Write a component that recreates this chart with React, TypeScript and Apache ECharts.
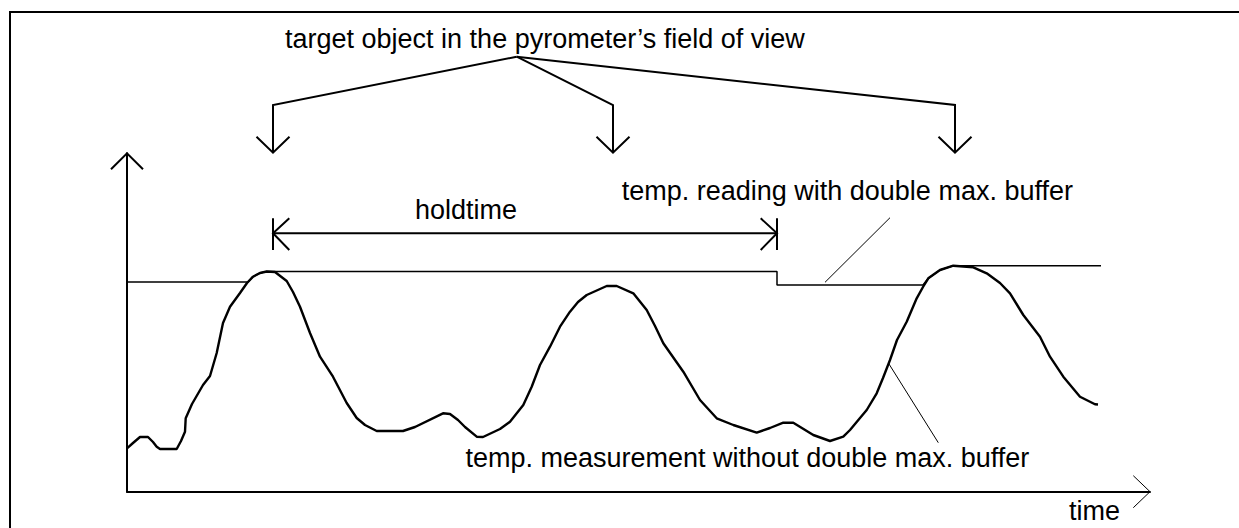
import React, { useEffect, useRef } from "react";
import * as echarts from "echarts";

// Measured temperature (without double max. buffer): time / temperature in arbitrary units
const timeValues = [
  0, 6, 13, 21, 26, 29.7, 33, 49.7, 54, 58, 58.7, 65, 76, 83, 89.7, 96, 103, 113, 120, 126,
  133, 139.7, 148, 159.7, 166, 173, 183, 193, 206, 219.7, 229.7, 238, 249.7, 276, 288, 316,
  323, 331, 338, 349.7, 356, 373, 383, 396.3, 404.7, 413, 423, 433, 443, 451, 459.7, 479.7,
  489.7, 506.3, 519.7, 528, 536.3, 556.3, 573, 589.7, 606.3, 629.7, 643, 656.3, 666.3, 686.3,
  703, 716.3, 723, 733, 739.7, 749.7, 756, 763, 770, 779.7, 789.7, 796, 801.3, 813, 826.3,
  846.3, 859.7, 873, 883, 896.3, 913, 923, 936.3, 953, 968, 971,
];
const tempValues = [
  43.4, 48.7, 54.7, 54.7, 49.7, 45, 42.7, 42.7, 50.7, 60, 73.4, 87.7, 106.7, 115.7, 138.7,
  168.7, 185, 198.7, 208.7, 215, 218.7, 220.2, 219.7, 210.7, 199.7, 185, 158.7, 135, 115,
  88.7, 73.7, 66.7, 60.7, 60.7, 64.7, 78.4, 77.7, 71.7, 64.7, 55, 54.7, 62.7, 70, 86.7, 105,
  126.7, 145, 165, 180, 189.7, 196.7, 205.7, 205.7, 198.4, 181.7, 165.7, 148.4, 120, 91.7,
  73.4, 66.7, 59, 63.7, 69, 69, 56.7, 50.7, 55, 61.7, 73.7, 81.7, 98.4, 113.7, 131.7, 151.7,
  170, 193.4, 204.7, 213.4, 221.7, 226, 224.4, 218.4, 208.7, 198.4, 176.7, 155, 135, 115, 95,
  87.4, 87.2,
];

// Temperature reading with double max. buffer
const bufferTime = [0, 121, 126, 133, 139.7, 650, 650, 796, 801.3, 813, 826.3, 974];
const bufferTemp = [209.7, 209.7, 215, 218.7, 220.2, 220.2, 206.7, 206.7, 213.4, 221.7, 226, 226];

// Texts
const titleText = "target object in the pyrometer\u2019s field of view";
const holdText = "holdtime";
const bufferText = "temp. reading with double max. buffer";
const measureText = "temp. measurement without double max. buffer";
const xAxisText = "time";

const FONT = "'Liberation Sans', Arial, sans-serif";

export default function App() {
  const ref = useRef<HTMLDivElement>(null);

  useEffect(() => {
    if (!ref.current) return;
    const chart = echarts.init(ref.current, undefined, { renderer: "svg" });

    const curve = timeValues.map((t, i) => [t, tempValues[i]]);
    const buffer = bufferTime.map((t, i) => [t, bufferTemp[i]]);

    const txt = (text: string, x: number, y: number, align: string = "left") => ({
      type: "text",
      silent: true,
      style: {
        text,
        x,
        y,
        align,
        verticalAlign: "middle",
        fill: "#000",
        font: `27px ${FONT}`,
      },
    });
    const poly = (points: number[][], w = 2) => ({
      type: "polyline",
      silent: true,
      shape: { points },
      style: { stroke: "#000", lineWidth: w, fill: "none" },
    });

    const apex = [516.7, 56.7];
    const branchXs = [273, 613, 955];

    const graphics: any[] = [
      {
        type: "rect",
        silent: true,
        shape: { x: 10, y: 12, width: 1300, height: 700 },
        style: { stroke: "#000", lineWidth: 2, fill: "none" },
      },
      txt(titleText, 285, 38.8),
      ...branchXs.map((bx) => poly([apex, [bx, 105], [bx, 152.7]], 2)),
      ...branchXs.map((bx) => poly([[bx - 16.5, 136.7], [bx, 152.7], [bx + 16.5, 136.7]], 2)),
      // y axis arrow head
      poly([[111, 169.3], [127, 153.3], [143, 169.3]], 2),
      // x axis arrow head
      poly([[1133.3, 475.7], [1150, 491.7], [1133.3, 507.7]], 1),
      // holdtime dimension
      poly([[273, 233.3], [777, 233.3]], 2),
      poly([[273, 218.3], [273, 250]], 2),
      poly([[777, 218.3], [777, 250]], 2),
      poly([[289.3, 218.3], [273, 233.3], [289.3, 250]], 2),
      poly([[760.7, 218.3], [777, 233.3], [760.7, 250]], 2),
      txt(holdText, 415, 209.5),
      txt(bufferText, 621.7, 190.5),
      txt(measureText, 1029.3, 458, "right"),
      txt(xAxisText, 1069, 510.5),
      // leader lines
      poly([[890, 217.7], [825, 282.3]], 1),
      poly([[889, 364], [938.3, 442.7]], 1),
    ];

    chart.setOption({
      animation: false,
      backgroundColor: "#fff",
      grid: { left: 127, right: 89, top: 153.3, bottom: 36.3, containLabel: false },
      xAxis: {
        type: "value",
        min: 0,
        max: 1023,
        axisLine: { show: true, onZero: false, lineStyle: { color: "#000", width: 2 } },
        axisTick: { show: false },
        axisLabel: { show: false },
        splitLine: { show: false },
      },
      yAxis: {
        type: "value",
        min: 0,
        max: 338.4,
        axisLine: { show: true, onZero: false, lineStyle: { color: "#000", width: 2 } },
        axisTick: { show: false },
        axisLabel: { show: false },
        splitLine: { show: false },
      },
      series: [
        {
          type: "line",
          data: buffer,
          showSymbol: false,
          symbol: "none",
          lineStyle: { color: "#000", width: 1.5 },
          z: 2,
        },
        {
          type: "line",
          data: curve,
          showSymbol: false,
          symbol: "none",
          lineStyle: { color: "#000", width: 2.4 },
          z: 3,
        },
      ],
      graphic: graphics,
    });

    return () => chart.dispose();
  }, []);

  return (
    <div
      ref={ref}
      style={{ position: "fixed", left: 0, top: 0, width: 1239, height: 528, background: "#fff" }}
    />
  );
}
